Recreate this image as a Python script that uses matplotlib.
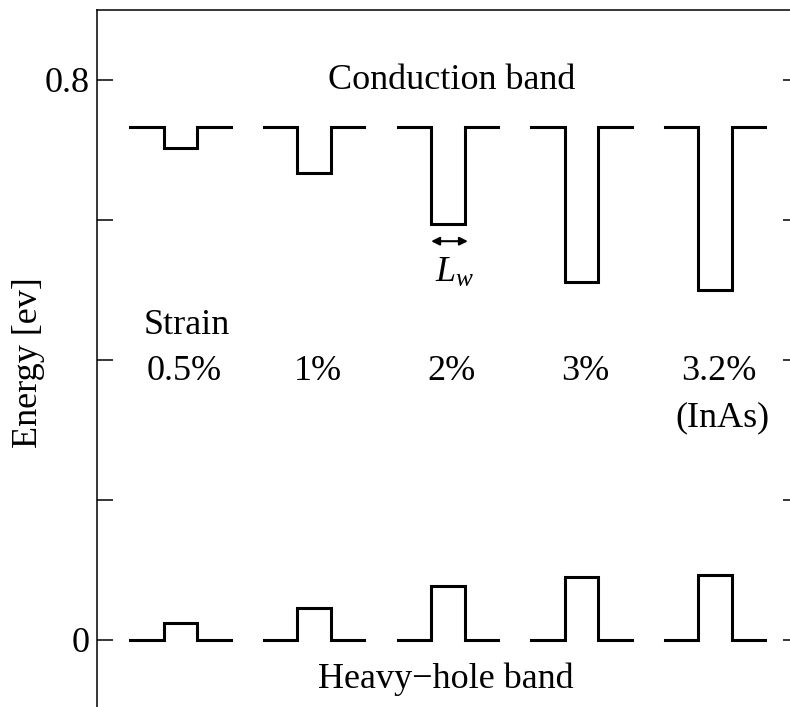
import numpy as np
import matplotlib
matplotlib.use("Agg")
import matplotlib.pyplot as plt

# -------------------------------
# Band edges of strained quantum wells
# -------------------------------
strain_labels = ['0.5%', '1%', '2%', '3%', '3.2%']
cb_edge = 0.732                                   # conduction band of barrier (eV)
cb_well = [0.702, 0.667, 0.593, 0.511, 0.500]     # conduction band in well (eV)
hh_edge = 0.0                                     # heavy-hole band of barrier (eV)
hh_well = [0.024, 0.045, 0.076, 0.090, 0.092]     # heavy-hole band in well (eV)

ytick_vals = [0, 0.2, 0.4, 0.6, 0.8]
ytick_labels = ['0', '', '', '', '0.8']

plt.rcParams['font.family'] = ['Liberation Serif', 'DejaVu Serif']
plt.rcParams['mathtext.fontset'] = 'custom'
plt.rcParams['mathtext.rm'] = 'Liberation Serif'
plt.rcParams['mathtext.it'] = 'Liberation Serif:italic'

spacing = 4.0     # distance between structures
w = 1.0           # well width (also barrier piece width)


def profile(center, edge, level):
    xs = [center - 1.5 * w, center - 0.5 * w, center - 0.5 * w,
          center + 0.5 * w, center + 0.5 * w, center + 1.5 * w]
    ys = [edge, edge, level, level, edge, edge]
    return xs, ys


fig = plt.figure(figsize=(7.90, 7.07), dpi=100)
ax = fig.add_axes([97 / 790, -2.5 / 707, 701.7 / 790, 700 / 707])

for i, lab in enumerate(strain_labels):
    c = i * spacing
    xs, ys = profile(c, cb_edge, cb_well[i])
    ax.plot(xs, ys, color='black', lw=2.2, solid_joinstyle='miter')
    xs, ys = profile(c, hh_edge, hh_well[i])
    ax.plot(xs, ys, color='black', lw=2.2, solid_joinstyle='miter')
    ax.text(c + 0.1, 0.37, lab, ha='center', va='baseline', fontsize=26)

ax.text(0.18, 0.436, 'Strain', ha='center', va='baseline', fontsize=26)
ax.text(4 * spacing + 0.22, 0.304, '(InAs)', ha='center', va='baseline', fontsize=26)
ax.text(8.1, 0.787, 'Conduction band', ha='center', va='baseline', fontsize=26)
ax.text(7.95, -0.07, 'Heavy\u2212hole band', ha='center', va='baseline', fontsize=26)

# well width marker
c2 = 2 * spacing
ax.annotate('', xy=(c2 + 0.6 * w, 0.569), xytext=(c2 - 0.5 * w, 0.569),
            arrowprops=dict(arrowstyle='<|-|>', color='black', lw=1.5,
                            mutation_scale=12, shrinkA=0, shrinkB=0))
ax.text(c2 + 0.2, 0.511, '$L_w$', ha='center', va='baseline', fontsize=26)

ax.set_xlim(-2.5, 4 * spacing + 2.5)
ax.set_ylim(-0.1, 0.9)
ax.set_xticks([])
ax.set_yticks(ytick_vals)
ax.set_yticklabels(ytick_labels)
ax.tick_params(axis='y', direction='in', length=11.5, width=1.1,
               labelsize=26, pad=5, right=True)
for s in ax.spines.values():
    s.set_linewidth(1.1)

ax.text(-0.097, 0.495, 'Energy [ev]', rotation=90, ha='center', va='center',
        fontsize=26, transform=ax.transAxes)

plt.savefig('out.png', dpi=100)
